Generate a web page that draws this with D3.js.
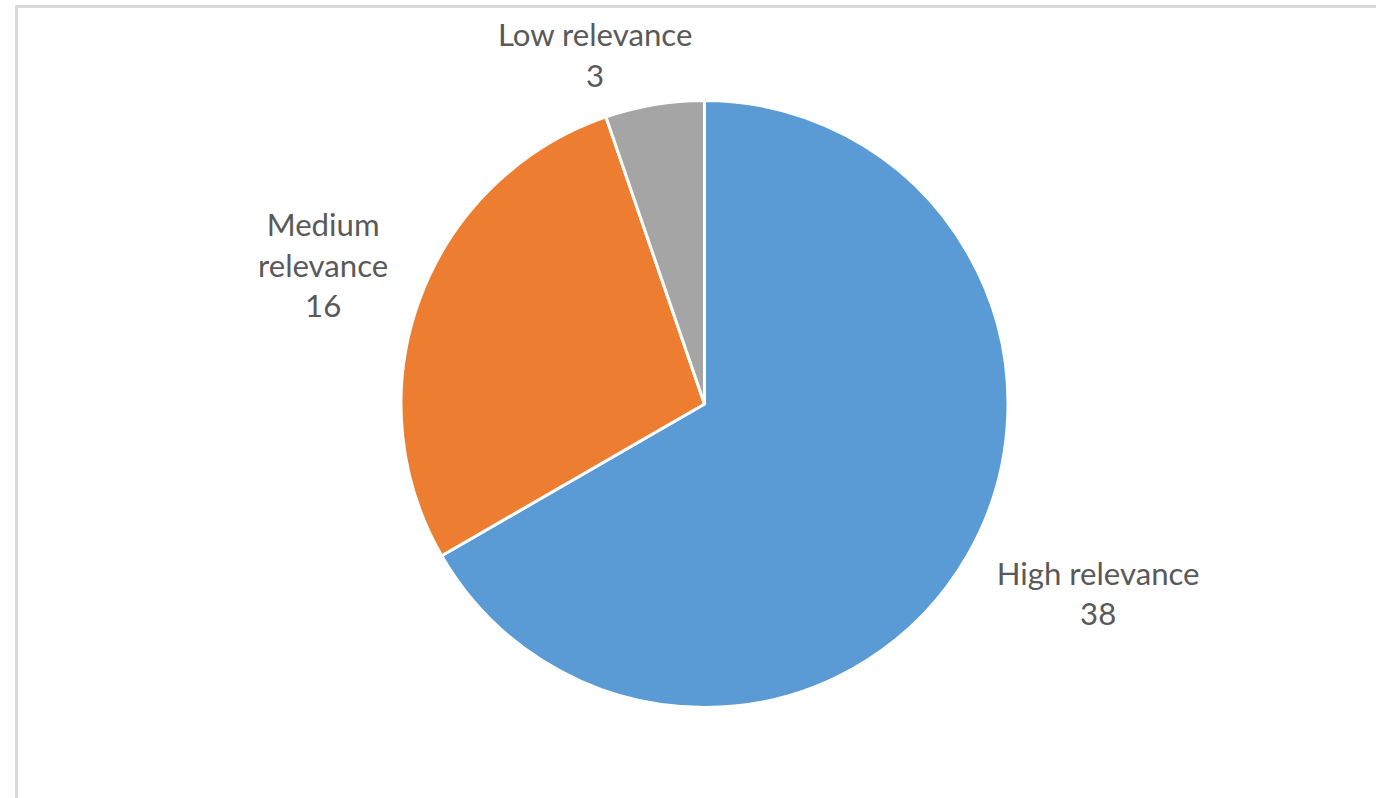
<!DOCTYPE html>
<html><head><meta charset="utf-8">
<script src="https://cdn.jsdelivr.net/npm/d3@7"></script>
<style>html,body{margin:0;padding:0;background:#fff;overflow:hidden}</style>
</head><body>
<svg id="chart" width="1376" height="798"></svg>
<script>
const categories = ["High relevance", "Medium relevance", "Low relevance"];
const values = [38, 16, 3];
const labelLines = [["High relevance", "38"], ["Medium", "relevance", "16"], ["Low relevance", "3"]];
const colors = ["#5B9BD5", "#ED7D31", "#A5A5A5"];

const W = 1376, H = 798;
const svg = d3.select("#chart");
svg.append("rect").attr("x", 16.5).attr("y", 6.5).attr("width", W).attr("height", H)
  .attr("fill", "#fff").attr("stroke", "#d9d9d9").attr("stroke-width", 3);

const cx = 704.5, cy = 404, r = 303.5;
const g = svg.append("g").attr("transform", `translate(${cx},${cy})`);
const data = categories.map((c, i) => ({ name: c, value: values[i], lines: labelLines[i], color: colors[i] }));
const pie = d3.pie().value(d => d.value).sort(null);
const arcs = pie(data);
const arc = d3.arc().innerRadius(0).outerRadius(r);
g.selectAll("path").data(arcs).join("path")
  .attr("d", arc).attr("fill", d => d.data.color)
  .attr("stroke", "#fff").attr("stroke-width", 3).attr("stroke-linejoin", "round");

// fit font so "High relevance" is ~203px wide
const probe = svg.append("text").attr("font-family", "Lato, 'Open Sans', sans-serif").attr("font-size", 100).text("High relevance");
const wAt100 = probe.node().getComputedTextLength();
probe.remove();
const fs = 100 * 203 / wAt100;
const lineH = 40.5;
const capH = fs * 0.716;
const gap = 45;
const nudge = [[4, 0], [6, 2], [-36, 26]];

arcs.forEach((a, i) => {
  const mid = (a.startAngle + a.endAngle) / 2;
  const dx = Math.sin(mid), dy = -Math.cos(mid);
  const t = g.append("text").attr("font-family", "Lato, 'Open Sans', sans-serif")
    .attr("font-size", fs).attr("fill", "#595959").attr("text-anchor", "middle");
  const n = a.data.lines.length;
  a.data.lines.forEach((ln, j) => t.append("tspan").text(ln));
  const widths = t.selectAll("tspan").nodes().map(nd => nd.getComputedTextLength());
  const w = d3.max(widths);
  const h = (n - 1) * lineH + capH;
  const px = dx * (r + gap) + dx * w / 2 + nudge[i][0];
  const py = dy * (r + gap) + dy * h / 2 + nudge[i][1];
  const firstBase = py - (n - 1) * lineH / 2 + capH / 2;
  t.selectAll("tspan").attr("x", px).attr("y", (d, j) => firstBase + j * lineH);
});
</script>
</body></html>
